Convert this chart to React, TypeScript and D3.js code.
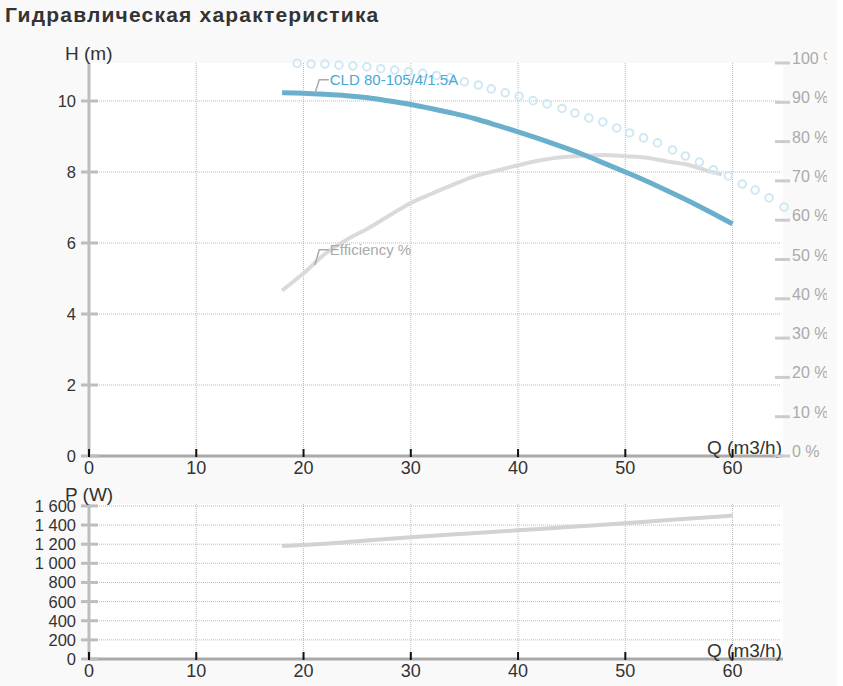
import React from "react";
import * as d3 from "d3";

// head curve H (m) vs Q (m3/h)
const headQ = [18, 20, 22, 24, 26, 28, 30, 32, 34, 36, 38, 40, 42, 44, 46, 48, 50, 52, 54, 56, 58, 60];
const headH = [10.23, 10.22, 10.19, 10.15, 10.09, 10.0, 9.9, 9.78, 9.65, 9.5, 9.32, 9.13, 8.93, 8.72, 8.5, 8.25, 8.0, 7.74, 7.46, 7.17, 6.86, 6.54];

// efficiency %
const effQ = [18, 20, 22, 24, 26, 28, 30, 32, 34, 36, 38, 40, 42, 44, 46, 48, 50, 52, 54, 56, 58, 59];
const effV = [42.1, 46.5, 51.4, 55.0, 57.9, 61.2, 64.4, 66.8, 69.1, 71.2, 72.6, 74.0, 75.2, 76.0, 76.4, 76.6, 76.3, 75.9, 74.9, 74.0, 72.3, 71.7];

// max curve markers (circles)
const maxQ = [19.4, 20.7, 22.0, 23.3, 24.6, 25.9, 27.2, 28.5, 29.8, 31.1, 32.4, 33.7, 35.0, 36.3, 37.5, 38.8, 40.1, 41.4, 42.7, 44.1, 45.3, 46.6, 47.9, 49.2, 50.4, 51.7, 53.0, 54.4, 55.6, 56.9, 58.2, 59.6, 60.9, 62.1, 63.4, 64.8];
const maxH = [11.06, 11.04, 11.04, 11.01, 10.99, 10.96, 10.91, 10.87, 10.83, 10.78, 10.72, 10.66, 10.54, 10.45, 10.34, 10.23, 10.13, 10.01, 9.92, 9.79, 9.66, 9.52, 9.41, 9.24, 9.1, 8.96, 8.82, 8.62, 8.45, 8.28, 8.06, 7.89, 7.66, 7.49, 7.27, 7.01];

// power P (W)
const powQ = [18, 20, 25, 30, 35, 40, 45, 50, 55, 60];
const powP = [1182, 1192, 1230, 1273, 1310, 1345, 1382, 1419, 1460, 1499];

const qTicks = [0, 10, 20, 30, 40, 50, 60];
const hTicks = [0, 2, 4, 6, 8, 10];
const effTicks = [0, 10, 20, 30, 40, 50, 60, 70, 80, 90, 100];
const pTicks = [0, 200, 400, 600, 800, 1000, 1200, 1400, 1600];

const W = 837;
const H = 686;
const FONT = "'Liberation Sans', Arial, sans-serif";

export default function App() {
  const x = d3.scaleLinear().domain([0, 64.7]).range([89, 783]);
  const yH = d3.scaleLinear().domain([0, 11.07]).range([456, 63]);
  const yE = d3.scaleLinear().domain([0, 100]).range([456, 63]);
  const yP = d3.scaleLinear().domain([0, 1620]).range([659, 504]);

  const fmtP = (v: number) => d3.format(",")(v).replace(",", " ");

  const lineH = d3.line<number>().x((_, i) => x(headQ[i])).y(d => yH(d)).curve(d3.curveMonotoneX);
  const lineE = d3.line<number>().x((_, i) => x(effQ[i])).y(d => yE(d)).curve(d3.curveMonotoneX);
  const lineP = d3.line<number>().x((_, i) => x(powQ[i])).y(d => yP(d)).curve(d3.curveMonotoneX);

  const [x0, x1] = x.range();

  // one panel frame: grid, axes, ticks
  const panel = (y: d3.ScaleLinear<number, number>, ticks: number[], fmt: (v: number) => string, label: string, key: string) => {
    const [yb, yt] = y.range();
    return (
      <g key={key}>
        <rect x={x0} y={yt} width={x1 - x0} height={yb - yt} fill="#fff" />
        {qTicks.slice(1).map(q => (
          <line key={"v" + q} x1={x(q)} x2={x(q)} y1={yt} y2={yb} stroke="#bbb" strokeDasharray="1,1" />
        ))}
        {ticks.slice(1).map(t => (
          <line key={"h" + t} x1={x0} x2={x1 - 2} y1={y(t)} y2={y(t)} stroke="#bbb" strokeDasharray="1,1" />
        ))}
        <line x1={x0} x2={x0} y1={yt} y2={yb} stroke="#bdbdbd" strokeWidth={3} />
        <line x1={x0} x2={x1} y1={yb} y2={yb} stroke="#aaa" strokeWidth={3} />
        {ticks.map(t => (
          <g key={"t" + t}>
            <line x1={x0 - 8} x2={x0 + 9} y1={y(t)} y2={y(t)} stroke="#bdbdbd" strokeWidth={3} />
            <text x={76} y={y(t) + 6} textAnchor="end" fontSize={16.5} fill="#333" fontFamily={FONT}>{fmt(t)}</text>
          </g>
        ))}
        {qTicks.map(q => (
          <g key={"q" + q}>
            <line x1={x(q)} x2={x(q)} y1={yb - 7} y2={yb + 1} stroke="#111" strokeWidth={2} />
            <text x={x(q)} y={yb + 18} textAnchor="middle" fontSize={18} fill="#333" fontFamily={FONT}>{q}</text>
          </g>
        ))}
        <text x={x1 - 1} y={yb - 2} textAnchor="end" fontSize={19} fill="#333" fontFamily={FONT}>Q (m3/h)</text>
        <text x={65} y={yt - 3} fontSize={19} fill="#333" fontFamily={FONT}>{label}</text>
      </g>
    );
  };

  return (
    <svg width={W} height={H} style={{ position: "absolute", left: 0, top: 0, display: "block" }}>
      <defs>
        <clipPath id="rclip">
          <rect x={0} y={0} width={827} height={H} />
        </clipPath>
      </defs>
      <rect x={0} y={0} width={W} height={H} fill="#f9f9f9" />
      <text x={5} y={22} fontSize={21} fontWeight="bold" letterSpacing={1.2} fill="#333" fontFamily={FONT}>Гидравлическая характеристика</text>

      {panel(yH, hTicks, d => String(d), "H (m)", "top")}
      {panel(yP, pTicks, fmtP, "P (W)", "bottom")}

      {/* right efficiency axis */}
      <g clipPath="url(#rclip)">
        {effTicks.map(t => (
          <g key={"e" + t}>
            <line x1={775} x2={790} y1={yE(t)} y2={yE(t)} stroke="#ccc" strokeWidth={3} />
            <text x={792} y={yE(t) + 1} fontSize={16} fill="#aaa" fontFamily={FONT}>{t} %</text>
          </g>
        ))}
      </g>

      {/* curves */}
      <path d={lineE(effV) || ""} fill="none" stroke="#dadada" strokeWidth={4} />
      <path d={lineH(headH) || ""} fill="none" stroke="#6ab0cd" strokeWidth={5} />
      <path d={lineP(powP) || ""} fill="none" stroke="#d2d2d2" strokeWidth={4} />
      {maxH.map((h, i) => (
        <circle key={"c" + i} cx={x(maxQ[i])} cy={yH(h)} r={3.8} fill="none" stroke="#cfe8f3" strokeWidth={2} />
      ))}

      {/* series labels */}
      <polyline points={`${x(21.05)},${yH(10.2)} ${x(21.05) + 4.5},${yH(10.6)} ${x(21.05) + 14},${yH(10.6)}`} fill="none" stroke="#aaa" strokeWidth={1.5} />
      <text x={x(21.05) + 15} y={yH(10.6) + 5} fontSize={15} fill="#45a9d6" fontFamily={FONT}>CLD 80-105/4/1.5A</text>
      <polyline points={`${x(21.05)},${yE(48.6)} ${x(21.05) + 4.5},${yE(52.5)} ${x(21.05) + 14},${yE(52.5)}`} fill="none" stroke="#aaa" strokeWidth={1.5} />
      <text x={x(21.05) + 15} y={yE(52.5) + 5} fontSize={15} fill="#aaa" fontFamily={FONT}>Efficiency %</text>
    </svg>
  );
}
